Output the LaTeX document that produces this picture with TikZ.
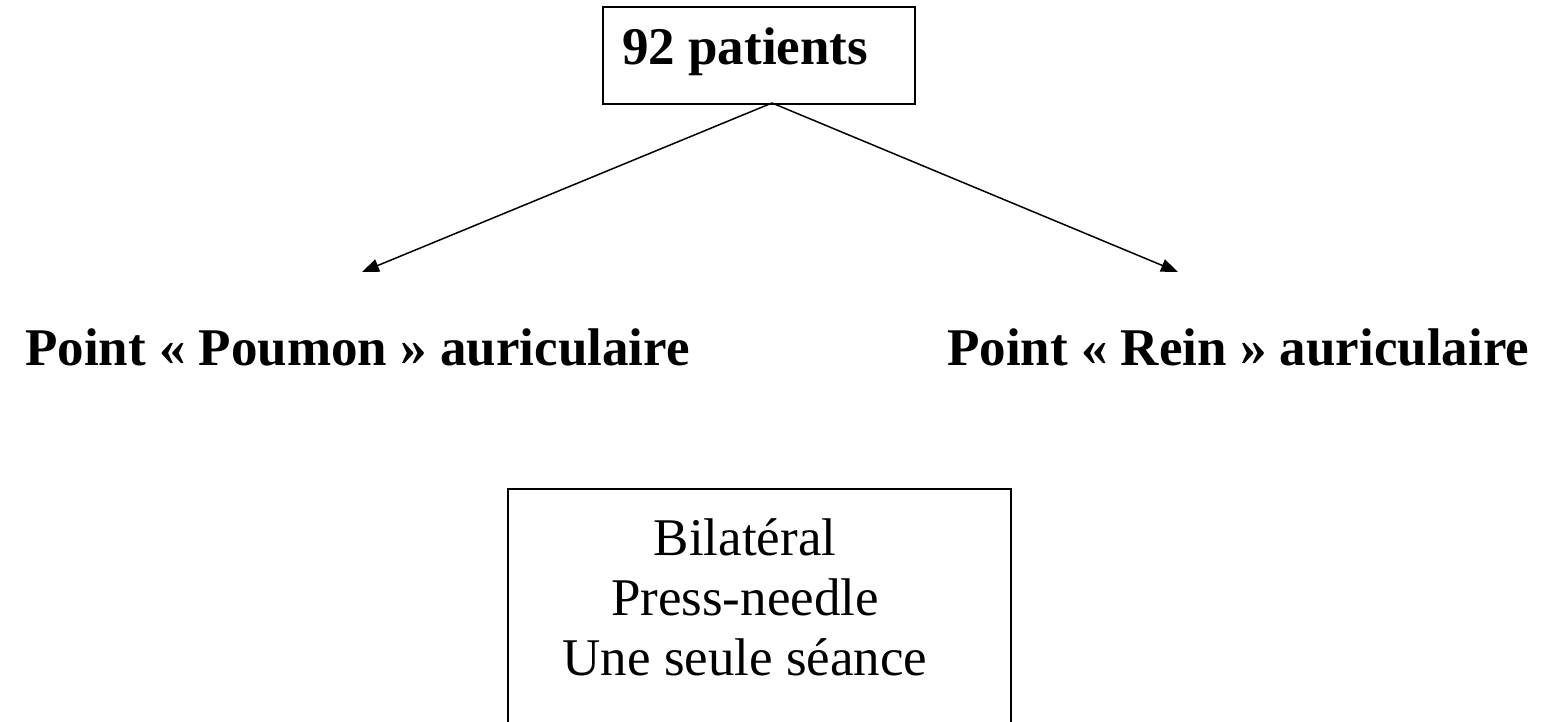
\documentclass[tikz,border=0pt]{standalone}
\usepackage{fontspec}
\setmainfont{Liberation Serif}
\usetikzlibrary{arrows.meta}
\tikzset{
  box/.style={draw=black, line width=2pt, inner sep=0pt, anchor=north west},
  bigb/.style={font=\fontsize{53}{60}\selectfont\bfseries, inner sep=0pt, anchor=base west},
  bigr/.style={font=\fontsize{53}{60}\selectfont, inner sep=0pt, anchor=base},
  conn/.style={line width=1.5pt, -{Triangle[length=17pt,width=13pt]}}
}
\begin{document}
\begin{tikzpicture}[x=1pt,y=-1pt]
\useasboundingbox (0,0) rectangle (1542,722);
\clip (0,0) rectangle (1542,722);
% top box
\node[box, minimum width=312pt, minimum height=97pt] (top) at (602,6) {};
\node[bigb] (toptext) at (622,65) {92 patients};
\coordinate (split) at (772,103);
% labels
\node[bigb] (poumon) at (25,365) {Point « Poumon » auriculaire};
\node[bigb] (rein) at (947,365) {Point « Rein » auriculaire};
\coordinate (tipL) at (362,272);
\coordinate (tipR) at (1178,272);
\draw[conn] (split) -- (tipL);
\draw[conn] (split) -- (tipR);
% bottom box (clipped at the lower edge)
\node[box, minimum width=503pt, minimum height=300pt] (bottom) at (507,488) {};
\node[bigr] (l1) at (745,555) {Bilatéral};
\node[bigr] (l2) at (745,615) {Press-needle};
\node[bigr] (l3) at (745,675) {Une seule séance};
\end{tikzpicture}
\end{document}
